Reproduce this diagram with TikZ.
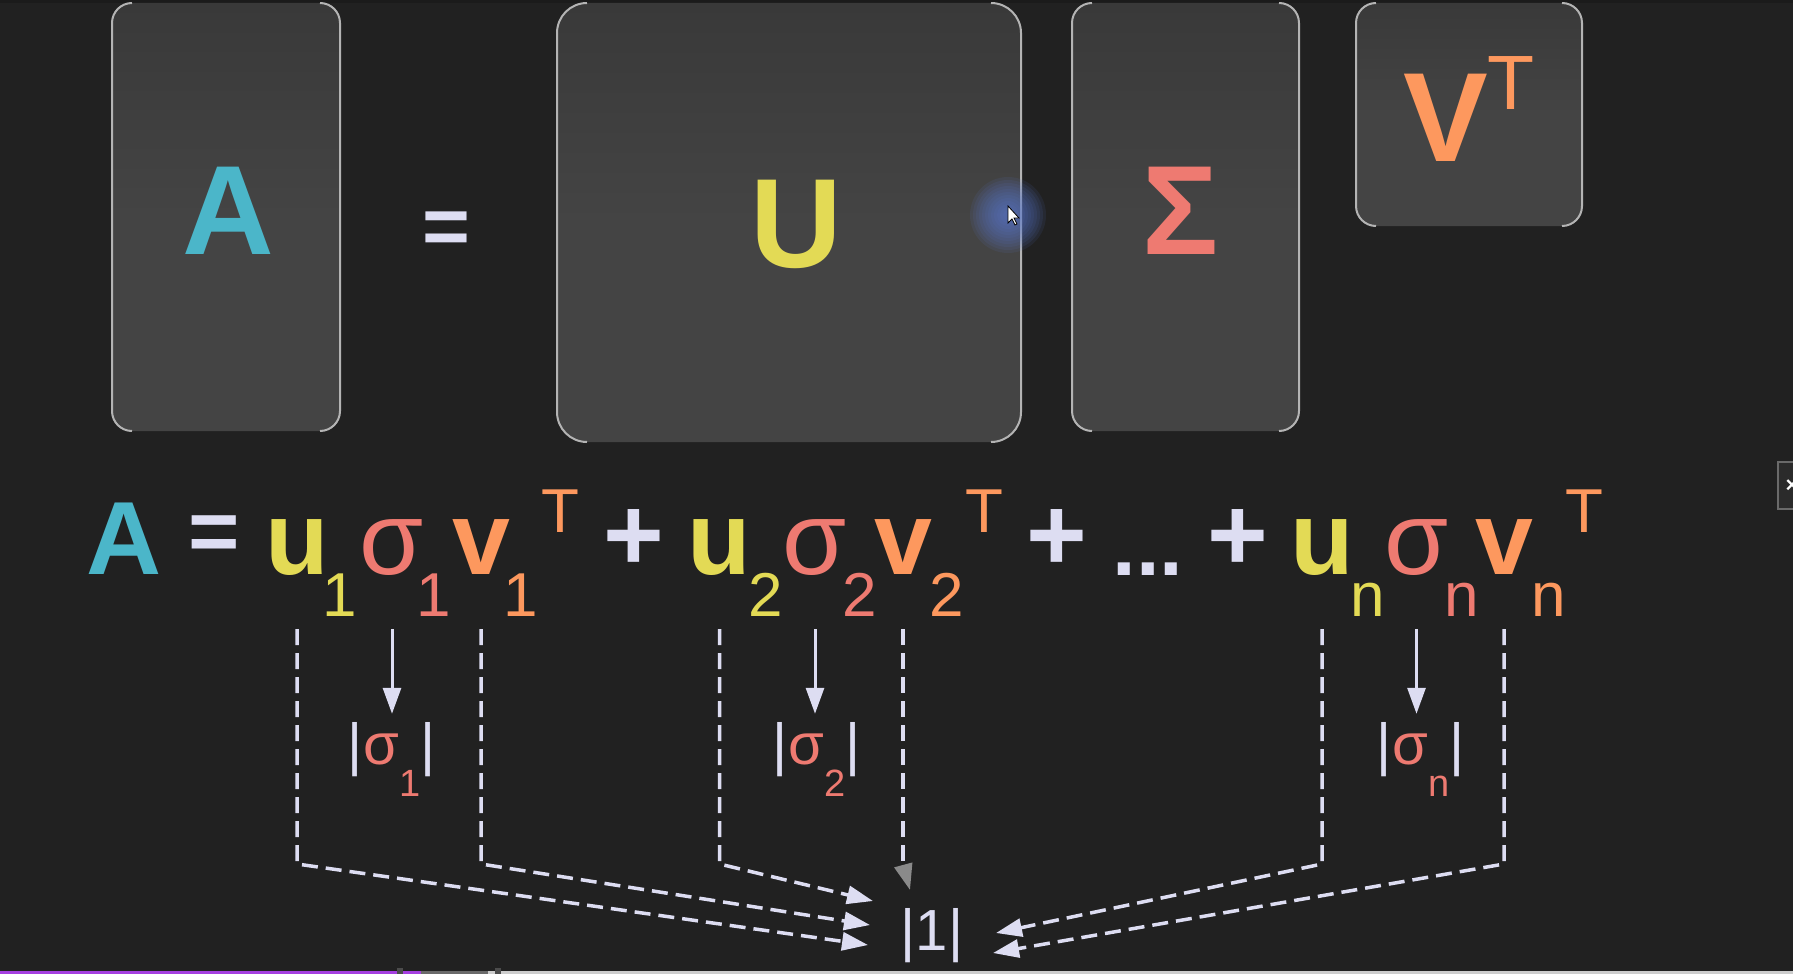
\documentclass[tikz,border=0pt]{standalone}
\usepackage{fontspec}
\setmainfont{Liberation Sans}
\usetikzlibrary{arrows.meta,calc}
\definecolor{bg}{HTML}{212121}
\definecolor{topstrip}{HTML}{1B1B1B}
\definecolor{boxfill}{HTML}{444444}
\definecolor{boxtop}{HTML}{393939}
\definecolor{border}{HTML}{B4B4B4}
\definecolor{cA}{HTML}{4BB6C9}
\definecolor{cU}{HTML}{E3DA55}
\definecolor{cS}{HTML}{EE7A71}
\definecolor{cV}{HTML}{FD985E}
\definecolor{cL}{HTML}{DDDDF2}
\definecolor{cGray}{HTML}{8A8A8A}
\definecolor{cGlow}{HTML}{5A78D0}
\definecolor{cPurple}{HTML}{A53FE0}
\definecolor{cMid}{HTML}{6A6A6A}
\definecolor{cLight}{HTML}{CDCDCD}
\definecolor{cWid}{HTML}{2B2B2B}
\newcommand{\fsz}[1]{\fontsize{#1}{#1}\selectfont}
\tikzset{
  brk/.style={draw=border, line width=2pt},
  mat/.style={anchor=base, inner sep=0pt, font=\fsz{127}\bfseries},
  big/.style={anchor=base, inner sep=0pt, font=\fsz{104}\bfseries},
  reg/.style={anchor=base, inner sep=0pt, font=\fsz{104}},
  sub/.style={anchor=base, inner sep=0pt, font=\fsz{62}},
  op/.style={inner sep=0pt, font=\fsz{104}\bfseries, text=cL},
  absn/.style={anchor=base, inner sep=0pt, font=\fsz{58}},
  solarr/.style={draw=cL, line width=3pt, -{Triangle[length=26pt,width=18pt]}, shorten >=8pt},
  dashcon/.style={draw=cL, line width=3.5pt, dash pattern=on 16pt off 8pt, -{Triangle[length=26pt,width=18pt]}},
}
\begin{document}
\begin{tikzpicture}[x=1pt,y=-1pt]
\useasboundingbox (0,0) rectangle (1793,974);
\fill[bg] (0,0) rectangle (1793,974);
\fill[topstrip] (0,0) rectangle (1793,3);
% matrix boxes
\foreach \l/\r/\b/\rr in {112/340/431/20, 557/1021/442/30, 1072/1299/431/20, 1356/1582/226/20}{
  \shade[top color=boxtop, bottom color=boxfill, middle color=boxfill, rounded corners=\rr pt] (\l,3) rectangle (\r,\b);
  \draw[brk, rounded corners=\rr pt] (\l+\rr,3) -- (\l,3) -- (\l,\b) -- (\l+\rr,\b);
  \draw[brk, rounded corners=\rr pt] (\r-\rr,3) -- (\r,3) -- (\r,\b) -- (\r-\rr,\b);
}
\node[mat, text=cA] (mA) at (228,254) {A};
\node[inner sep=0pt, font=\fsz{82}\bfseries, text=cL] (eqtop) at (446,233) {=};
\node[mat, text=cU] (mU) at (796,267) {U};
\node[mat, text=cS] (mS) at (1181,254) {Σ};
\node[mat, text=cV] (mV) at (1446,161) {V};
\node[anchor=base, inner sep=0pt, font=\fsz{77}, text=cV] (mT) at (1511,109) {T};
% glow and cursor
\foreach \q in {38,35,...,5}{\fill[cGlow, opacity=0.1] (1008,215) circle[radius=\q pt];}
\filldraw[fill=white, draw=black, line width=0.8pt] (1008,206) -- (1008,223) -- (1012,219) -- (1015,225) -- (1017,224) -- (1014,218) -- (1019,218) -- cycle;
% equation
\node[big, text=cA] (eA) at (124,574) {A};
\node[inner sep=0pt, font=\fsz{88}\bfseries, text=cL] (eEq) at (214,539) {=};
\node[big, text=cU] (u1) at (297,574) {u};
\node[sub, text=cU] (su1) at (340,616) {1};
\node[reg, text=cS] (g1) at (392,574) {σ};
\node[sub, text=cS] (sg1) at (434,616) {1};
\node[big, text=cV] (v1) at (481,574) {v};
\node[sub, text=cV] (sv1) at (521,616) {1};
\node[sub, text=cV] (T1) at (560,532) {T};
\node[op] (p1) at (634,540) {+};
\node[big, text=cU] (u2) at (719.5,574) {u};
\node[sub, text=cU] (su2) at (766,616) {2};
\node[reg, text=cS] (g2) at (815,574) {σ};
\node[sub, text=cS] (sg2) at (860,616) {2};
\node[big, text=cV] (v2) at (903,574) {v};
\node[sub, text=cV] (sv2) at (947,616) {2};
\node[sub, text=cV] (T2) at (984,532) {T};
\node[op] (p2) at (1057,540) {+};
\node[anchor=base, inner sep=0pt, font=\fsz{85}\bfseries, text=cL] (dots) at (1148,575) {...};
\node[op] (p3) at (1237.5,540) {+};
\node[big, text=cU] (un) at (1322,574) {u};
\node[sub, text=cU] (sun) at (1368,616) {n};
\node[reg, text=cS] (gn) at (1416.5,574) {σ};
\node[sub, text=cS] (sgn) at (1461.5,616) {n};
\node[big, text=cV] (vn) at (1504,574) {v};
\node[sub, text=cV] (svn) at (1548.5,616) {n};
\node[sub, text=cV] (Tn) at (1584,532) {T};
% absolute values
\node[absn] (abs1) at (392,764) {{\color{cL}|}{\color{cS}σ\kern1pt\raisebox{-32pt}{\fsz{38}1}}{\color{cL}|}};
\node[absn] (abs2) at (817,764) {{\color{cL}|}{\color{cS}σ\kern1pt\raisebox{-32pt}{\fsz{38}2}}{\color{cL}|}};
\node[absn] (absn) at (1421,764) {{\color{cL}|}{\color{cS}σ\kern1pt\raisebox{-32pt}{\fsz{38}n}}{\color{cL}|}};
\node[absn, text=cL] (one) at (932,950) {|1|};
% connectors
\coordinate (rowtop) at (0,629);
\coordinate (bend) at (0,864);
\draw[solarr] (g1 |- rowtop) -- (g1 |- abs1.north);
\draw[solarr] (g2 |- rowtop) -- (g2 |- abs2.north);
\draw[solarr] (gn |- rowtop) -- (gn |- absn.north);
\draw[dashcon] (u1 |- rowtop) -- (u1 |- bend) -- ($(one.base)+(-64,-5)$);
\draw[dashcon] (v1 |- rowtop) -- (v1 |- bend) -- ($(one.base)+(-62,-25)$);
\draw[dashcon] (u2 |- rowtop) -- (u2 |- bend) -- ($(one.base)+(-59,-49)$);
\draw[dashcon, -{Triangle[length=26pt,width=18pt,color=cGray]}] (v2 |- rowtop) -- (v2 |- bend) -- ($(one.base)+(-22,-60)$);
\draw[dashcon] (un |- rowtop) -- (un |- bend) -- ($(one.base)+(64,-17)$);
\draw[dashcon] (vn |- rowtop) -- (vn |- bend) -- ($(one.base)+(61,3)$);
% side widget
\filldraw[fill=cWid, draw=cMid, line width=1.5pt] (1778,462) rectangle (1800,509);
\node[inner sep=0pt, font=\fsz{22}\bfseries, text=white] (xw) at (1792,486) {×};
% bottom bar
\fill[cPurple] (0,971) rectangle (421,974);
\fill[cMid] (421,971) rectangle (488,974);
\fill[cLight] (488,971) rectangle (1793,974);
\fill[black!70] (397,968) rectangle (403,974);
\fill[black!70] (495,968) rectangle (501,974);
\end{tikzpicture}
\end{document}
